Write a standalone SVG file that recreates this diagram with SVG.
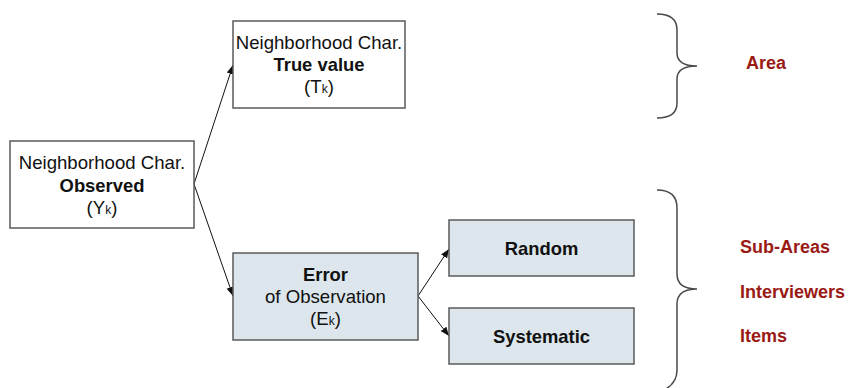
<svg xmlns="http://www.w3.org/2000/svg" width="852" height="388" viewBox="0 0 852 388">
  <style>
    .box { fill: #ffffff; stroke: #5a5a5a; stroke-width: 1.5; }
    .shaded { fill: #dce6ec; }
    .t { font-family: "Liberation Sans", Arial, sans-serif; font-size: 18.6px; fill: #111; text-anchor: middle; }
    .b { font-weight: bold; font-size: 18.4px; }
    .sub { font-size: 12px; }
    .lbl { font-family: "Liberation Sans", Arial, sans-serif; font-size: 18px; font-weight: bold; fill: #9a1a14; }
    .edge { stroke: #111; stroke-width: 1; fill: none; marker-end: url(#arrow); }
    .brace { stroke: #4a4a4a; stroke-width: 1.5; fill: none; }
  </style>
  <defs>
    <marker id="arrow" viewBox="0 0 10 10" refX="10" refY="5" markerWidth="9" markerHeight="9" markerUnits="userSpaceOnUse" orient="auto">
      <path d="M0,1 L10,5 L0,9 Z" fill="#111"/>
    </marker>
  </defs>

  <!-- connectors -->
  <g id="connectors">
    <line class="edge" x1="194" y1="184" x2="233" y2="65"/>
    <line class="edge" x1="194" y1="184" x2="233" y2="296"/>
    <line class="edge" x1="418" y1="296" x2="449" y2="249"/>
    <line class="edge" x1="418" y1="296" x2="449" y2="336"/>
  </g>

  <g id="observed">
    <rect class="box" x="10" y="141" width="184" height="87"/>
    <text class="t" x="102" y="169">Neighborhood Char.</text>
    <text class="t b" x="102" y="191.5">Observed</text>
    <text class="t" x="102" y="214">(Y<tspan class="sub">k</tspan>)</text>
  </g>

  <g id="true-value">
    <rect class="box" x="233" y="21" width="172" height="87"/>
    <text class="t" x="319" y="49">Neighborhood Char.</text>
    <text class="t b" x="319" y="71">True value</text>
    <text class="t" x="319" y="93">(T<tspan class="sub">k</tspan>)</text>
  </g>

  <g id="error">
    <rect class="box shaded" x="233" y="253" width="185" height="87"/>
    <text class="t b" x="325.5" y="280.5">Error</text>
    <text class="t" x="325.5" y="303">of Observation</text>
    <text class="t" x="325.5" y="325">(E<tspan class="sub">k</tspan>)</text>
  </g>

  <g id="random">
    <rect class="box shaded" x="449" y="220" width="185" height="56"/>
    <text class="t b" x="541.5" y="254.5">Random</text>
  </g>

  <g id="systematic">
    <rect class="box shaded" x="449" y="308" width="185" height="56"/>
    <text class="t b" x="541.5" y="342.5">Systematic</text>
  </g>

  <!-- braces and level labels -->
  <g id="area">
    <path class="brace" d="M657,14 C670,14 677,19 677,30 L677,53 C677,62 684,66 697,66 C684,66 677,70 677,79 L677,103 C677,113 670,118 657,118"/>
    <text class="lbl" x="746" y="69">Area</text>
  </g>

  <g id="levels">
    <path class="brace" d="M657,190 C670,190 677,196 677,208 L677,274 C677,284 684,289 697,289 C684,289 677,294 677,304 L677,370 C677,380 672,386 664,390"/>
    <text class="lbl" x="740" y="253">Sub-Areas</text>
    <text class="lbl" x="740" y="297.5">Interviewers</text>
    <text class="lbl" x="740" y="341.5">Items</text>
  </g>
</svg>
